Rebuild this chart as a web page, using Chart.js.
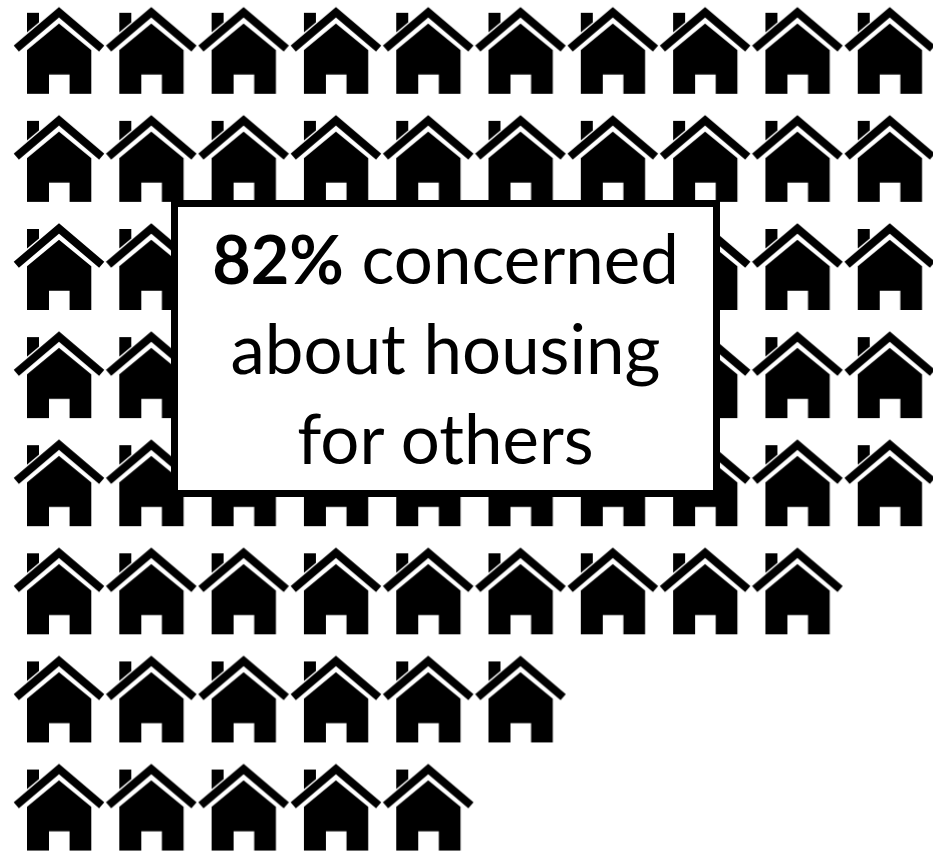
<!DOCTYPE html>
<html>
<head>
<meta charset="utf-8">
<title>Concern about housing</title>
<script src="https://cdn.jsdelivr.net/npm/chart.js@4"></script>
<style>
  html, body { margin: 0; padding: 0; background: #fff; overflow: hidden; }
  #wrap { position: relative; width: 933px; height: 855px; }
  #callout {
    position: absolute;
    left: 171px;
    top: 200px;
    width: 535px;
    height: 277px;
    padding-top: 6px;
    border: 7.5px solid #000;
    background: #fff;
    color: #000;
    font-family: Lato, "Open Sans", sans-serif;
    font-size: 69px;
    line-height: 90px;
    text-align: center;
  }
  #callout div { height: 90px; }
  #callout b { font-size: 66.5px; }
</style>
</head>
<body>
<div id="wrap">
  <canvas id="houses"></canvas>
  <div id="callout"><div id="line1"></div><div id="line2"></div><div id="line3"></div></div>
</div>
<script>
// houses per row, top to bottom
const rowCounts = [10, 10, 10, 10, 10, 9, 6, 5];
const headline = '82%';
const calloutLines = ['concerned', 'about housing', 'for others'];

// one house icon, used as the point style
function makeHouse() {
  const c = document.createElement('canvas');
  c.width = 92;
  c.height = 89;
  const g = c.getContext('2d');
  g.translate(1, 1);
  g.fillStyle = '#000';
  g.strokeStyle = '#000';

  // roof
  g.lineWidth = 8;
  g.lineJoin = 'miter';
  g.beginPath();
  g.moveTo(2.3, 41.7);
  g.lineTo(45, 5.5);
  g.lineTo(87.7, 41.7);
  g.stroke();

  // chimney
  g.beginPath();
  g.moveTo(13, 6);
  g.lineTo(25, 6);
  g.lineTo(25, 15.5);
  g.lineTo(13, 25.5);
  g.closePath();
  g.fill();

  // walls with the door cut out
  g.beginPath();
  g.moveTo(45, 16.7);
  g.lineTo(77.3, 43.3);
  g.lineTo(77.3, 87);
  g.lineTo(55.6, 87);
  g.lineTo(55.6, 67.7);
  g.lineTo(35, 67.7);
  g.lineTo(35, 87);
  g.lineTo(13, 87);
  g.lineTo(13, 43.3);
  g.closePath();
  g.fill();
  return c;
}

const points = [];
rowCounts.forEach((count, r) => {
  for (let i = 1; i <= count; i++) {
    points.push({ x: i, y: r + 1 });
  }
});

const bold = document.createElement('b');
bold.textContent = headline;
document.getElementById('line1').append(bold, ' ' + calloutLines[0]);
document.getElementById('line2').textContent = calloutLines[1];
document.getElementById('line3').textContent = calloutLines[2];

new Chart(document.getElementById('houses'), {
  type: 'scatter',
  data: {
    datasets: [{
      data: points,
      pointStyle: makeHouse(),
      pointRadius: 40
    }]
  },
  options: {
    responsive: true,
    maintainAspectRatio: false,
    animation: false,
    layout: { padding: 0, autoPadding: false },
    plugins: { legend: { display: false }, tooltip: { enabled: false } },
    scales: {
      x: { display: false, min: 0.361, max: 10.469 },
      y: { display: false, reverse: true, min: 0.535, max: 8.444 }
    }
  }
});
</script>
</body>
</html>
